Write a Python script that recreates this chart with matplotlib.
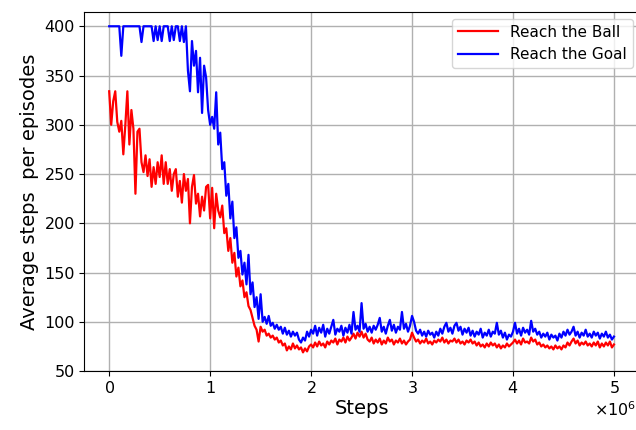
import numpy as np
import matplotlib.pyplot as plt
from matplotlib.ticker import ScalarFormatter

# training steps, one evaluation every 20000 steps
steps = np.arange(251) * 20000

# average episode length for the "reach the ball" task
ball = [
    334, 300, 324, 334, 303, 293, 304, 270, 300, 334,
    280, 315, 296, 230, 293, 296, 262, 252, 269, 248,
    265, 237, 257, 240, 262, 247, 269, 240, 262, 240,
    255, 233, 250, 255, 227, 243, 221, 250, 233, 245,
    200, 237, 249, 220, 230, 207, 227, 213, 237, 239,
    205, 236, 195, 230, 213, 206, 218, 190, 195, 172,
    185, 160, 170, 146, 155, 136, 142, 125, 130, 116,
    112, 104, 96, 92, 80, 95, 90, 92, 86, 88,
    84, 86, 82, 84, 79, 81, 76, 78, 71, 75,
    72, 78, 73, 76, 72, 74, 69, 73, 70, 75,
    77, 74, 79, 75, 80, 76, 78, 74, 80, 77,
    81, 79, 83, 77, 82, 80, 84, 79, 85, 81,
    84, 88, 83, 89, 85, 90, 84, 88, 82, 80,
    84, 78, 82, 79, 83, 77, 81, 78, 84, 80,
    82, 77, 81, 79, 83, 78, 81, 77, 80, 82,
    89, 84, 80, 82, 78, 81, 79, 83, 78, 80,
    77, 81, 79, 82, 80, 84, 79, 82, 78, 81,
    80, 83, 79, 82, 78, 80, 77, 81, 79, 82,
    78, 80, 76, 79, 75, 77, 74, 78, 75, 79,
    76, 78, 74, 77, 73, 76, 74, 78, 75, 77,
    79, 82, 78, 81, 77, 83, 79, 80, 78, 84,
    80, 82, 77, 79, 75, 77, 74, 76, 73, 75,
    72, 76, 73, 75, 72, 76, 74, 79, 76, 80,
    83, 78, 81, 76, 79, 77, 80, 76, 78, 75,
    79, 76, 80, 74, 78, 75, 79, 76, 80, 74,
    77,
]

# average episode length for the "reach the goal" task (capped at 400)
goal = [
    400, 400, 400, 400, 400, 400, 370, 400, 400, 400,
    400, 400, 400, 400, 400, 400, 384, 400, 400, 400,
    400, 400, 385, 400, 386, 400, 385, 400, 400, 400,
    385, 400, 386, 400, 400, 385, 400, 384, 400, 355,
    334, 385, 360, 375, 333, 368, 312, 360, 348, 315,
    300, 308, 296, 333, 280, 292, 255, 262, 228, 240,
    205, 222, 185, 196, 165, 172, 148, 160, 138, 168,
    128, 140, 115, 125, 103, 128, 100, 105, 98, 106,
    96, 99, 93, 97, 92, 95, 88, 94, 87, 91,
    85, 90, 86, 89, 82, 79, 84, 81, 90, 85,
    92, 88, 96, 86, 94, 89, 97, 85, 93, 88,
    95, 102, 87, 93, 90, 96, 86, 94, 89, 97,
    88, 110, 92, 96, 90, 119, 93, 98, 90, 95,
    89, 96, 92, 97, 104, 90, 95, 88, 96, 102,
    91, 97, 89, 95, 92, 110, 93, 98, 90, 96,
    106, 100, 91, 88, 92, 86, 90, 85, 91, 87,
    89, 84, 90, 86, 93, 88, 95, 99, 90, 94,
    88, 96, 99, 91, 95, 87, 93, 89, 94, 86,
    91, 85, 90, 87, 93, 84, 89, 86, 92, 85,
    90, 88, 99, 87, 91, 84, 89, 82, 87, 85,
    90, 99, 88, 93, 86, 94, 89, 92, 87, 101,
    90, 93, 87, 90, 84, 88, 85, 89, 82, 87,
    84, 86, 81, 88, 84, 90, 86, 92, 87, 90,
    95, 86, 90, 84, 89, 86, 92, 85, 88, 84,
    90, 86, 89, 83, 88, 85, 90, 84, 87, 82,
    85,
]

fig = plt.figure(figsize=(6.36, 4.30), dpi=100)
ax = fig.add_axes([0.132, 0.137, 0.873, 0.834])

ax.plot(steps, ball, color='red', lw=1.6, label='Reach the Ball')
ax.plot(steps, goal, color='blue', lw=1.6, label='Reach the Goal')

ax.set_xlim(-0.25e6, 5.25e6)
ax.set_ylim(50, 414)
ax.set_yticks(np.arange(50, 401, 50))

fmt = ScalarFormatter(useMathText=True)
fmt.set_powerlimits((0, 0))
ax.xaxis.set_major_formatter(fmt)
offset = ax.xaxis.get_offset_text()
offset.set_fontsize(11.5)
offset.set_x(0.995)

ax.tick_params(labelsize=11.5, pad=3)
ax.grid(True, color='#b0b0b0', lw=1.0)
ax.set_xlabel('Steps', fontsize=14, labelpad=2)
ax.set_ylabel('Average steps  per episodes', fontsize=14)
ax.legend(loc='upper right', fontsize=11, handlelength=2.6,
          borderaxespad=0.4)

fig.savefig('out.png')
